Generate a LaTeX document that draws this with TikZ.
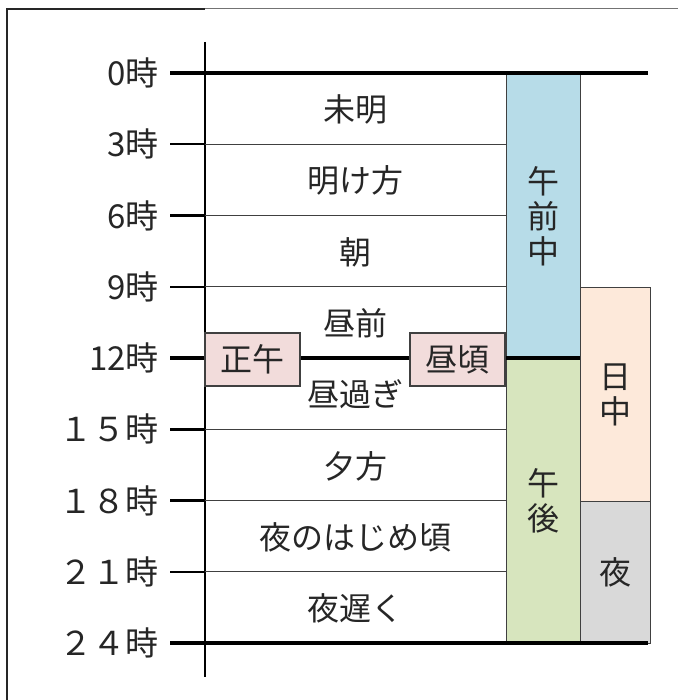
\documentclass[tikz,border=0pt]{standalone}
\usepackage{fontspec}
\newfontfamily\jp{Noto Sans CJK JP}
\definecolor{amblue}{HTML}{B7DCE8}
\definecolor{pmgreen}{HTML}{D7E5BE}
\definecolor{daypeach}{HTML}{FDE9DA}
\definecolor{nightgray}{HTML}{D9D9D9}
\definecolor{noonpink}{HTML}{F2DCDB}
\definecolor{txt}{HTML}{262626}
\definecolor{boxline}{HTML}{404040}
\begin{document}
\begin{tikzpicture}[x=1pt,y=-1pt,
  every node/.style={font=\jp\fontsize{32}{35}\selectfont, text=txt, inner sep=0pt},
  colbox/.style={draw=boxline, line width=1.2pt, anchor=north west, align=center},
  pinkbox/.style={draw=boxline, line width=1.2pt, fill=noonpink, minimum width=95pt, minimum height=53pt},
  thickline/.style={line width=4pt, black},
  thinline/.style={line width=0.9pt, black!75},
  tickline/.style={line width=2.5pt, black},
  hourlabel/.style={anchor=east, font=\jp\fontsize{33}{35}\selectfont},
  rowlabel/.style={}]
\useasboundingbox (0,0) rectangle (678,700);
% frame
\draw[line width=1.5pt, black!85] (7,700) -- (7,9) -- (205,9);
\draw[line width=1pt, black!55] (205,9) -- (678,9);
% columns
\node[colbox, fill=amblue, minimum width=74pt, minimum height=285pt] (am) at (506,73) {午\\前\\中};
\node[colbox, fill=pmgreen, minimum width=74pt, minimum height=285pt] (pm) at (506,358) {午\\後};
\node[colbox, fill=daypeach, minimum width=70pt, minimum height=214pt] (day) at (580,287) {日\\中};
\node[colbox, fill=nightgray, minimum width=70pt, minimum height=142pt] (night) at (580,501) {夜};
% axis
\coordinate (axtop) at (205,42);
\coordinate (axbot) at (205,677);
\draw[line width=1.1pt, black] (axtop) -- (axbot);
% hour lines
\foreach \i/\lab in {0/0時,1/3時,2/6時,3/9時,4/12時,5/１５時,6/１８時,7/２１時,8/２４時}{
  \coordinate (L\i) at (170,{73+71.25*\i});
  \coordinate (A\i) at (205,{73+71.25*\i});
  \coordinate (R\i) at (506,{73+71.25*\i});
  \node[hourlabel] (H\i) at (159,{73+71.25*\i}) {\lab};
}
\foreach \i in {1,2,3,5,6,7}{
  \draw[tickline] (L\i) -- (A\i);
  \draw[thinline] (A\i) -- (R\i);
}
\coordinate (E0) at (648,73);
\coordinate (E4) at (580,358);
\coordinate (E8) at (648,643);
\draw[thickline] (L0) -- (E0);
\draw[thickline] (L4) -- (E4);
\draw[thickline] (L8) -- (E8);
% row labels
\node (r1) at (355,109) {未明};
\node (r2) at (355,180) {明け方};
\node (r3) at (355,252) {朝};
\node (r4) at (355,323) {昼前};
\node (r5) at (355,394) {昼過ぎ};
\node (r6) at (355,466) {夕方};
\node (r7) at (355,537) {夜のはじめ頃};
\node (r8) at (355,608) {夜遅く};
% noon boxes
\node[pinkbox] (shogo) at (252.5,359.5) {正午};
\node[pinkbox] (hirugoro) at (457.5,359.5) {昼頃};
\end{tikzpicture}
\end{document}
